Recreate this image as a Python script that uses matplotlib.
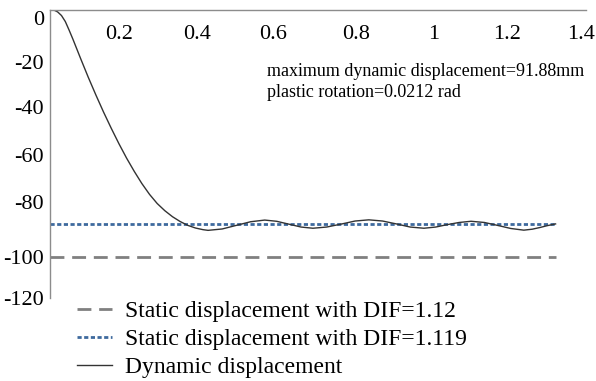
import matplotlib
matplotlib.use("Agg")
import matplotlib.pyplot as plt
from matplotlib.transforms import ScaledTranslation

plt.rcParams['font.family'] = ['Liberation Serif', 'DejaVu Serif']

# dynamic displacement response (time in s, displacement in mm)
t = [0.00, 0.01, 0.02, 0.03, 0.04, 0.05, 0.06, 0.07, 0.08, 0.09,
     0.10, 0.12, 0.14, 0.16, 0.18, 0.20, 0.22, 0.24, 0.26, 0.28,
     0.30, 0.32, 0.34, 0.36, 0.38, 0.40, 0.413, 0.45, 0.487, 0.524,
     0.561, 0.592, 0.624, 0.656, 0.687, 0.723, 0.760, 0.797, 0.833, 0.869,
     0.905, 0.941, 0.977, 1.008, 1.038, 1.069, 1.100, 1.135, 1.169, 1.204,
     1.238, 1.26, 1.28, 1.30, 1.321]
disp = [0.0, -0.2, -1.0, -2.5, -5.0, -8.6, -12.4, -16.4, -20.4, -24.3,
        -28.2, -35.6, -42.7, -49.4, -55.8, -61.8, -67.3, -72.4, -76.9, -80.7,
        -83.7, -86.2, -88.2, -89.8, -90.9, -91.6, -91.88, -91.3, -89.8, -88.3,
        -87.6, -88.1, -89.3, -90.5, -91.0, -90.5, -89.3, -88.0, -87.5, -88.0,
        -89.2, -90.5, -91.0, -90.5, -89.5, -88.6, -88.1, -88.6, -89.8, -91.1,
        -91.8, -91.4, -90.7, -89.9, -89.2]

static_dif112 = -103.0
static_dif1119 = -89.2
t_end = 1.321

xticks = [0.2, 0.4, 0.6, 0.8, 1.0, 1.2, 1.4]
xticklabels = ['0.2', '0.4', '0.6', '0.8', '1', '1.2', '1.4']
yticks = [0, -20, -40, -60, -80, -100, -120]

# small hand nudges of the tick labels (pixels) seen in the original
x_nudge = [-7, -6, -7, 0, 1, -2, -5]
y_nudge = [-8, -4, -1, -1, 0, -7, 0]

fig = plt.figure(figsize=(5.96, 3.81), dpi=100)
ax = fig.add_axes([0.0839, 0.218, 0.899, 0.757])

l1, = ax.plot([0, t_end], [static_dif112, static_dif112], color='#808080',
              linewidth=2, dashes=(5, 2.8), label='Static displacement with DIF=1.12')
l2, = ax.plot([0, t_end], [static_dif1119, static_dif1119], color='#3E6A9E',
              linewidth=2, dashes=(1.5, 0.9), label='Static displacement with DIF=1.119')
l3, = ax.plot(t, disp, color='#333333', linewidth=1.0, label='Dynamic displacement')

ax.set_xlim(0, 1.4)
ax.set_ylim(-120, 0)
ax.set_xticks(xticks)
ax.set_xticklabels(xticklabels)
ax.set_yticks(yticks)
ax.set_yticklabels([str(v) for v in yticks])

for s in ['right', 'bottom']:
    ax.spines[s].set_visible(False)
for s in ['left', 'top']:
    ax.spines[s].set_color('#8c8c8c')
    ax.spines[s].set_linewidth(1.0)

ax.tick_params(axis='x', bottom=False, labelbottom=False, top=False,
               labeltop=True, pad=-28, labelsize=16)
ax.tick_params(axis='y', left=False, pad=1, labelsize=16)

for tk, dx in zip(ax.xaxis.get_major_ticks(), x_nudge):
    lab = tk.label2
    lab.set_transform(lab.get_transform() + ScaledTranslation(dx / 100, 0, fig.dpi_scale_trans))
for tk, dy in zip(ax.yaxis.get_major_ticks(), y_nudge):
    lab = tk.label1
    lab.set_transform(lab.get_transform() + ScaledTranslation(0, dy / 100, fig.dpi_scale_trans))

ax.text(0.405, 0.683, 'maximum dynamic displacement=91.88mm\nplastic rotation=0.0212 rad',
        transform=ax.transAxes, fontsize=13, va='bottom', ha='left', linespacing=1.28)

fig.legend(handles=[l1, l2, l3], loc='upper left', bbox_to_anchor=(0.113, 0.235),
           frameon=False, fontsize=17, handlelength=1.5, handletextpad=0.55,
           labelspacing=0.27, borderaxespad=0)

fig.savefig('out.png', dpi=100)
